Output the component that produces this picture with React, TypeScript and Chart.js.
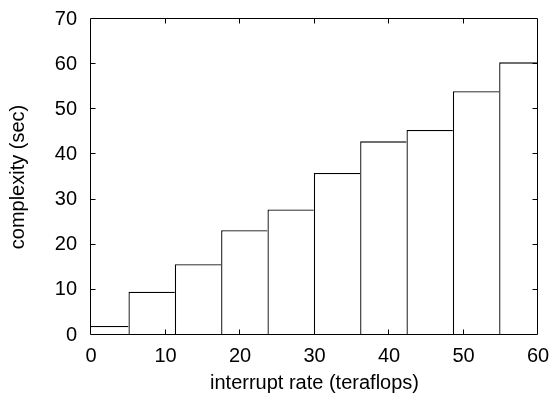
import React, { useEffect, useRef } from "react";
import { Chart, registerables } from "chart.js";

Chart.register(...registerables);

// Bin centres (teraflops) and box heights (sec)
const binCenters = [1.92, 8.14, 14.36, 20.58, 26.8, 33.02, 39.24, 45.46, 51.68, 57.9];
const complexity = [2.0, 9.6, 15.7, 23.2, 27.8, 35.9, 42.9, 45.4, 54.0, 60.4];

const xRange = [0, 60];
const yRange = [0, 70];
const tickStep = 10;

const xTitle = "interrupt rate (teraflops)";
const yTitle = "complexity (sec)";

const FONT = "'Liberation Sans', Arial, Helvetica, sans-serif";

const framePlugin = {
  id: "gnuplotFrame",
  afterDatasetsDraw(chart: any) {
    const { ctx, chartArea, scales } = chart;
    const { left, right, top, bottom } = chartArea;
    const x = scales.x;
    const y = scales.y;
    const L = Math.round(left) - 0.5;
    const R = Math.round(right) - 0.5;
    const T = Math.round(top) - 0.5;
    const B = Math.round(bottom) - 0.5;
    const tl = 5;
    ctx.save();
    ctx.strokeStyle = "#000";
    ctx.lineWidth = 1;
    ctx.beginPath();
    ctx.rect(L, T, R - L, B - T);
    ctx.stroke();
    ctx.beginPath();
    x.ticks.forEach((t: any) => {
      const px = Math.round(x.getPixelForValue(t.value)) - 0.5;
      if (px <= L + 1 || px >= R - 1) return;
      ctx.moveTo(px, B);
      ctx.lineTo(px, B - tl);
      ctx.moveTo(px, T);
      ctx.lineTo(px, T + tl);
    });
    y.ticks.forEach((t: any) => {
      const py = Math.round(y.getPixelForValue(t.value)) - 0.5;
      if (py <= T + 1 || py >= B - 1) return;
      ctx.moveTo(L, py);
      ctx.lineTo(L + tl, py);
      ctx.moveTo(R, py);
      ctx.lineTo(R - tl, py);
    });
    ctx.stroke();
    ctx.restore();
  },
};

function clearPadding(scale: any) {
  scale.paddingTop = 0;
  scale.paddingBottom = 0;
  scale.paddingLeft = 0;
  scale.paddingRight = 0;
}

export default function App() {
  const ref = useRef<HTMLCanvasElement | null>(null);

  useEffect(() => {
    document.body.style.margin = "0";
    const canvas = ref.current;
    if (!canvas) return;
    const chart = new Chart(canvas, {
      type: "bar",
      data: {
        datasets: [
          {
            data: binCenters.map((c, i) => ({ x: c, y: complexity[i] })),
            backgroundColor: "#ffffff",
            borderColor: "#000000",
            borderWidth: { top: 1.3, left: 1.3, right: 0, bottom: 0 },
            borderSkipped: false,
            inflateAmount: 0,
            barPercentage: 1,
            categoryPercentage: 1,
          } as any,
        ],
      },
      options: {
        animation: false,
        responsive: false,
        devicePixelRatio: 1,
        layout: { padding: { left: 0, top: 19, right: 15, bottom: 0 } },
        plugins: {
          legend: { display: false },
          tooltip: { enabled: false },
        },
        scales: {
          x: {
            type: "linear",
            min: xRange[0],
            max: xRange[1],
            offset: false,
            grid: { display: false, drawTicks: false },
            border: { display: false },
            ticks: {
              stepSize: tickStep,
              color: "#000",
              padding: 9,
              maxRotation: 0,
              font: { family: FONT, size: 20 },
            },
            title: {
              display: true,
              text: xTitle,
              color: "#000",
              padding: { top: 0, bottom: 1 },
              font: { family: FONT, size: 20 },
            },
            afterFit(scale: any) {
              scale.height = 61;
              clearPadding(scale);
            },
          },
          y: {
            min: yRange[0],
            max: yRange[1],
            grid: { display: false, drawTicks: false },
            border: { display: false },
            ticks: {
              stepSize: tickStep,
              color: "#000",
              padding: 14,
              font: { family: FONT, size: 20 },
            },
            title: {
              display: true,
              text: yTitle,
              color: "#000",
              padding: { top: 6, bottom: 0 },
              font: { family: FONT, size: 20 },
            },
            afterFit(scale: any) {
              scale.width = 91;
              clearPadding(scale);
            },
          },
        },
      } as any,
      plugins: [framePlugin],
    });
    return () => chart.destroy();
  }, []);

  return (
    <div style={{ position: "fixed", left: 0, top: 0, width: 553, height: 396, background: "#fff" }}>
      <canvas ref={ref} width={553} height={396} style={{ display: "block" }} />
    </div>
  );
}
